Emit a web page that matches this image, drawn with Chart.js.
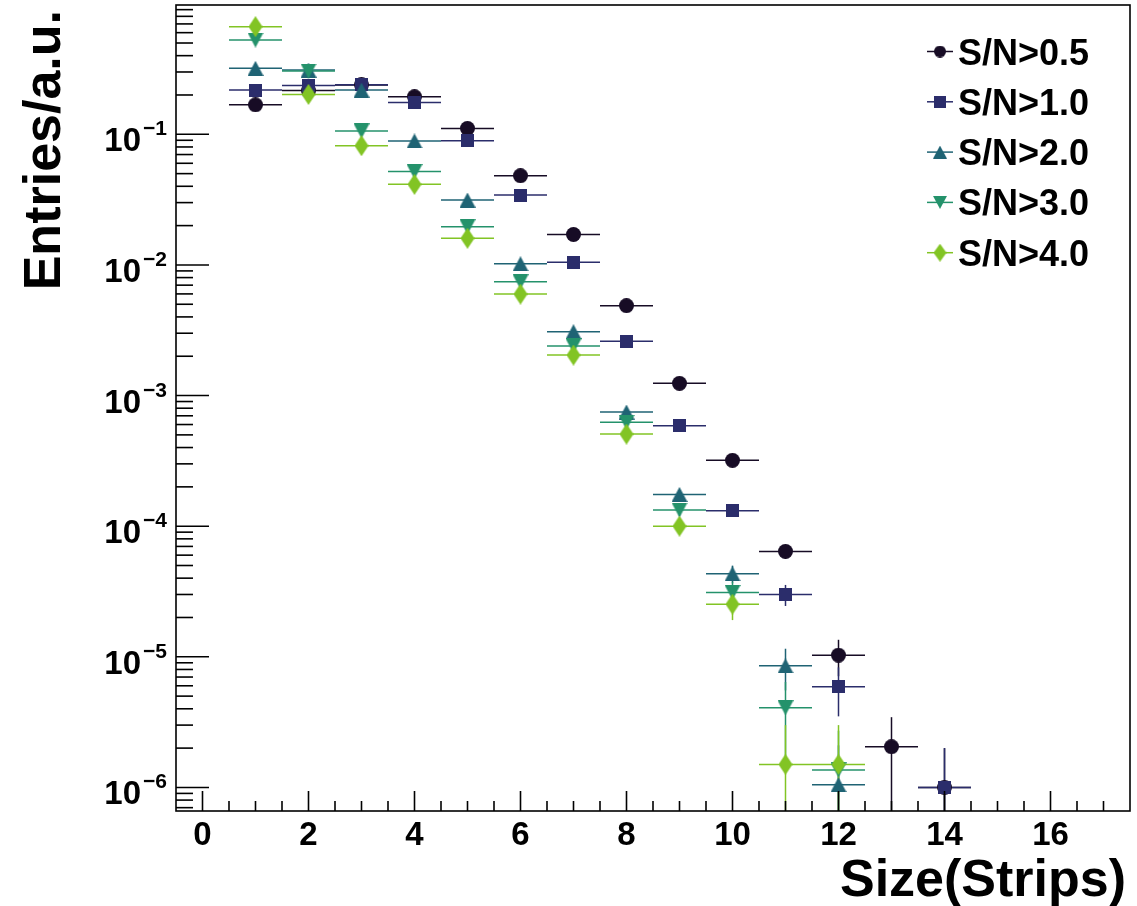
<!DOCTYPE html>
<html>
<head>
<meta charset="utf-8">
<script src="https://cdn.jsdelivr.net/npm/chart.js@4.4.1/dist/chart.umd.min.js"></script>
<style>
  html, body { margin: 0; padding: 0; background: #ffffff; }
  #wrap { width: 1137px; height: 906px; position: relative; }
</style>
</head>
<body>
<div id="wrap"><canvas id="c" width="1137" height="906"></canvas></div>
<script>
// ---------------- data ----------------
const sizes = [1, 2, 3, 4, 5, 6, 7, 8, 9, 10, 11, 12, 13, 14];
const seriesNames = ['S/N>0.5', 'S/N>1.0', 'S/N>2.0', 'S/N>3.0', 'S/N>4.0'];
const sn05 = [0.168, 0.216, 0.239, 0.194, 0.111, 0.0482, 0.0171, 0.00488, 0.00124, 3.19e-4, 6.41e-5, 1.03e-5, 2.05e-6, 1.0e-6];
const sn10 = [0.218, 0.236, 0.240, 0.175, 0.0893, 0.0343, 0.0105, 0.0026, 5.88e-4, 1.31e-4, 3.0e-5, 5.9e-6, null, 1.0e-6];
const sn20 = [0.32, 0.31, 0.218, 0.0889, 0.0314, 0.0102, 0.00308, 7.48e-4, 1.75e-4, 4.32e-5, 8.53e-6, 1.05e-6, null, null];
const sn30 = [0.527, 0.305, 0.106, 0.0518, 0.0196, 0.00743, 0.0024, 6.24e-4, 1.33e-4, 3.11e-5, 4.07e-6, 1.36e-6, null, null];
const sn40 = [0.667, 0.202, 0.0818, 0.0414, 0.016, 0.00598, 0.00204, 5.07e-4, 1.0e-4, 2.53e-5, 1.5e-6, 1.5e-6, null, null];
const err05 = [4e-4, 5e-4, 5e-4, 4e-4, 3e-4, 2e-4, 1.3e-4, 7e-5, 3.5e-5, 1.8e-5, 8e-6, 3.2e-6, 1.4e-6, 1.0e-6];
const err10 = [5e-4, 5e-4, 5e-4, 4e-4, 3e-4, 1.9e-4, 1e-4, 5e-5, 2.4e-5, 1.15e-5, 5.5e-6, 2.4e-6, null, 1.0e-6];
const err20 = [6e-4, 6e-4, 5e-4, 3e-4, 1.8e-4, 1e-4, 5.7e-5, 2.8e-5, 1.35e-5, 6.7e-6, 3.0e-6, 1.05e-6, null, null];
const err30 = [8e-4, 6e-4, 3.8e-4, 2.6e-4, 1.6e-4, 1e-4, 5.7e-5, 2.9e-5, 1.35e-5, 6.5e-6, 2.35e-6, 1.36e-6, null, null];
const err40 = [1e-3, 5.5e-4, 3.5e-4, 2.5e-4, 1.55e-4, 9.5e-5, 5.5e-5, 2.8e-5, 1.2e-5, 6.2e-6, 1.5e-6, 1.5e-6, null, null];
const binHalfWidth = 0.5;
const xTickValues = [0, 2, 4, 6, 8, 10, 12, 14, 16];
const yTickExponents = [-1, -2, -3, -4, -5, -6];
const xTitle = 'Size(Strips)';
const yTitle = 'Entries/a.u.';

// ---------------- styles ----------------
const FONT = '"Liberation Sans", Arial, Helvetica, sans-serif';
const colors = ['#170c25', '#2b2d6b', '#1f6374', '#24926b', '#82c424'];
const shapes = ['circle', 'square', 'up', 'down', 'diamond'];
const markerSize = { circle: [15, 15], square: [13, 13], up: [16, 15], down: [16, 15], diamond: [14, 21] };
const legendSize = { circle: [12, 12], square: [12, 12], up: [14, 13], down: [14, 13], diamond: [13, 18] };

function makeMarker(shape, color, w, h) {
  const cv = document.createElement('canvas');
  cv.width = w; cv.height = h;
  const g = cv.getContext('2d');
  g.fillStyle = color;
  g.beginPath();
  if (shape === 'circle') { g.arc(w / 2, h / 2, w / 2, 0, Math.PI * 2); }
  else if (shape === 'square') { g.rect(0, 0, w, h); }
  else if (shape === 'up') { g.moveTo(w / 2, 0); g.lineTo(w, h); g.lineTo(0, h); g.closePath(); }
  else if (shape === 'down') { g.moveTo(0, 0); g.lineTo(w, 0); g.lineTo(w / 2, h); g.closePath(); }
  else { g.moveTo(w / 2, 0); g.lineTo(w, h / 2); g.lineTo(w / 2, h); g.lineTo(0, h / 2); g.closePath(); }
  g.fill();
  return cv;
}

const valueSets = [sn05, sn10, sn20, sn30, sn40];
const errSets = [err05, err10, err20, err30, err40];

const datasets = valueSets.map((vals, i) => {
  const sz = markerSize[shapes[i]];
  return {
    label: seriesNames[i],
    data: sizes.map((x, k) => ({ x: x, y: vals[k], e: errSets[i][k] })).filter(p => p.y !== null),
    pointStyle: makeMarker(shapes[i], colors[i], sz[0], sz[1]),
    borderColor: colors[i],
    backgroundColor: colors[i],
    showLine: false,
    order: 5 - i
  };
});

// ---------------- plugins ----------------
const errorBars = {
  id: 'errorBars',
  beforeDatasetsDraw(chart) {
    const ctx = chart.ctx, a = chart.chartArea;
    const xs = chart.scales.x, ys = chart.scales.y;
    ctx.save();
    ctx.beginPath(); ctx.rect(a.left, a.top, a.right - a.left, a.bottom - a.top); ctx.clip();
    ctx.lineWidth = 1.5;
    chart.data.datasets.forEach((ds, i) => {
      ctx.strokeStyle = colors[i];
      ds.data.forEach(p => {
        const px = xs.getPixelForValue(p.x);
        const py = ys.getPixelForValue(p.y);
        ctx.beginPath();
        ctx.moveTo(xs.getPixelForValue(p.x - binHalfWidth), py);
        ctx.lineTo(xs.getPixelForValue(p.x + binHalfWidth), py);
        ctx.stroke();
        if (p.e) {
          const hi = ys.getPixelForValue(p.y + p.e);
          const lowV = p.y - p.e;
          const lo = lowV > ys.min ? ys.getPixelForValue(lowV) : a.bottom + 2;
          ctx.beginPath(); ctx.moveTo(px, hi); ctx.lineTo(px, lo); ctx.stroke();
        }
      });
    });
    ctx.restore();
  }
};

const rootFrame = {
  id: 'rootFrame',
  afterDraw(chart) {
    const ctx = chart.ctx, a = chart.chartArea;
    const xs = chart.scales.x, ys = chart.scales.y;
    ctx.save();
    ctx.strokeStyle = '#000'; ctx.fillStyle = '#000';
    // frame
    ctx.lineWidth = 1.6;
    ctx.strokeRect(a.left, a.top, a.right - a.left, a.bottom - a.top);
    // x ticks (inward)
    ctx.lineWidth = 1.6;
    for (let v = -0.5; v <= 17.5 + 1e-9; v += 0.5) {
      const px = xs.getPixelForValue(v);
      if (px <= a.left + 1 || px >= a.right - 1) continue;
      const major = xTickValues.includes(v);
      ctx.beginPath(); ctx.moveTo(px, a.bottom); ctx.lineTo(px, a.bottom - (major ? 20 : 10)); ctx.stroke();
    }
    // y ticks (inward)
    for (let d = -7; d <= 0; d++) {
      for (let m = 1; m <= 9; m++) {
        const v = m * Math.pow(10, d);
        if (v < ys.min || v > ys.max) continue;
        const py = ys.getPixelForValue(v);
        ctx.beginPath(); ctx.moveTo(a.left, py); ctx.lineTo(a.left + (m === 1 ? 33 : 17), py); ctx.stroke();
      }
    }
    // x tick labels
    ctx.font = 'bold 33px ' + FONT;
    ctx.textAlign = 'center'; ctx.textBaseline = 'alphabetic';
    xTickValues.forEach(v => ctx.fillText(String(v), xs.getPixelForValue(v), 845));
    // y tick labels with superscripts
    yTickExponents.forEach(e => {
      const py = ys.getPixelForValue(Math.pow(10, e));
      const expStr = '\u2212' + Math.abs(e);
      ctx.textAlign = 'right';
      ctx.font = 'bold 21px ' + FONT;
      const ew = ctx.measureText(expStr).width;
      ctx.fillText(expStr, 167, py + 1);
      ctx.font = 'bold 33px ' + FONT;
      ctx.fillText('10', 167 - ew - 2, py + 17);
    });
    // axis titles
    ctx.font = 'bold 52px ' + FONT;
    ctx.textAlign = 'right';
    ctx.fillText(xTitle, 1126, 896);
    ctx.save();
    ctx.translate(60, 10); ctx.rotate(-Math.PI / 2);
    ctx.textAlign = 'right';
    ctx.fillText(yTitle, 0, 0);
    ctx.restore();
    // legend
    ctx.font = 'bold 36px ' + FONT;
    ctx.textAlign = 'left';
    seriesNames.forEach((name, i) => {
      const cy = 51.5 + i * 50.3;
      ctx.strokeStyle = colors[i]; ctx.lineWidth = 1.5;
      ctx.beginPath(); ctx.moveTo(927, cy); ctx.lineTo(953, cy); ctx.stroke();
      const sz = legendSize[shapes[i]];
      ctx.drawImage(makeMarker(shapes[i], colors[i], sz[0], sz[1]), 940 - sz[0] / 2, cy - sz[1] / 2);
      ctx.fillStyle = '#000';
      ctx.fillText(name, 958, cy + 13);
    });
    ctx.restore();
  }
};

new Chart(document.getElementById('c'), {
  type: 'scatter',
  data: { datasets: datasets },
  options: {
    responsive: false,
    animation: false,
    devicePixelRatio: 1,
    layout: { autoPadding: false, padding: { left: 176, top: 5, right: 7, bottom: 95 } },
    plugins: { legend: { display: false }, tooltip: { enabled: false } },
    scales: {
      x: { type: 'linear', min: -0.5, max: 17.5, display: false },
      y: { type: 'logarithmic', min: 6.6e-7, max: 0.977, display: false }
    },
    elements: { point: { radius: 8 } }
  },
  plugins: [errorBars, rootFrame]
});
</script>
</body>
</html>
